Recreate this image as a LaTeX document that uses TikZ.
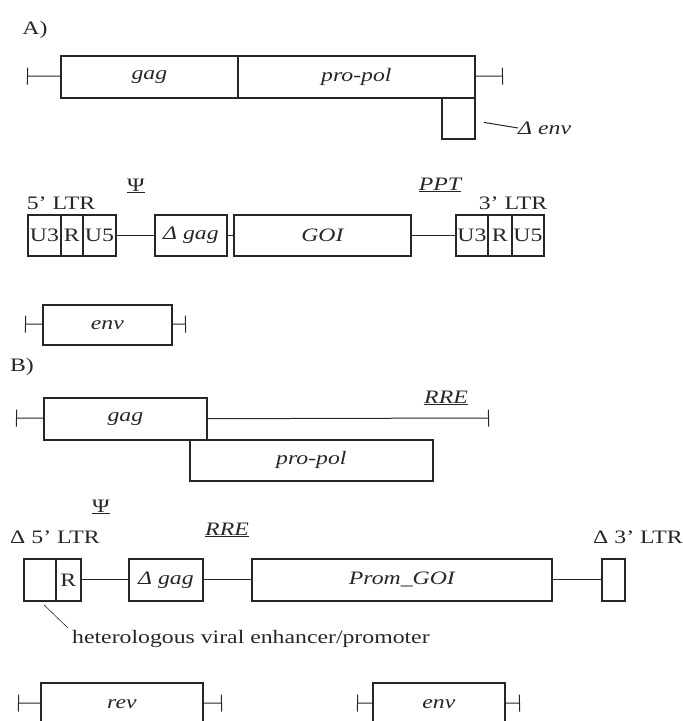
\documentclass[tikz,border=0pt]{standalone}
\usepackage{fontspec}
\setmainfont[Scale=1.9, FakeStretch=1.25]{Liberation Serif}
\usetikzlibrary{arrows.meta, positioning}

\begin{document}
\begin{tikzpicture}[x=1pt, y=-1pt, black!85,
  gene/.style={draw, line width=1.8pt, anchor=north west, inner sep=0pt, minimum height=42pt, font=\itshape},
  ltr/.style={draw, line width=1.8pt, anchor=north west, inner sep=0pt, minimum height=41pt},
  tag/.style={inner sep=0pt},
  link/.style={line width=1pt},
  stub/.style={line width=1pt, {Bar[width=17pt]}-}]
\useasboundingbox (0,0) rectangle (683,721);
\node[tag] (labA) at (35,30) {A)};
\node[gene, minimum width=177pt] (gagA) at (60,55) {gag};
\node[gene, minimum width=237pt] (polA) at (237,55) {pro-pol};
\node[gene, minimum width=33pt, minimum height=41pt] (denvA) at (441,97) {};
\coordinate (wA1) at (27,76); \coordinate (wA2) at (503,76);
\draw[stub] (wA1) -- (gagA); \draw[stub] (wA2) -- (polA);
\node[tag, anchor=west, font=\itshape] (denvlab) at (518,128) {Δ env};
\draw[link] ([shift={(8,4)}]denvA.east) -- (denvlab.west);

\node[tag] (psiA) at (136,186) {\underline{Ψ}};
\node[tag] (ltr5A) at (61,203) {5' LTR};
\node[ltr, minimum width=33pt] (u3a) at (27,214) {U3};
\node[ltr, minimum width=22pt] (ra) at (60,214) {R};
\node[ltr, minimum width=33pt] (u5a) at (82,214) {U5};
\node[gene, minimum width=72pt, minimum height=41pt] (dgagA) at (154,214) {Δ gag};
\node[gene, minimum width=177pt, minimum height=41pt] (goiA) at (233,214) {GOI};
\node[tag, font=\itshape] (pptA) at (440,185) {\underline{PPT}};
\node[tag] (ltr3A) at (513,203) {3' LTR};
\node[ltr, minimum width=32pt] (u3b) at (455,214) {U3};
\node[ltr, minimum width=24pt] (rb) at (487,214) {R};
\node[ltr, minimum width=32pt] (u5b) at (511,214) {U5};
\draw[link] (u5a) -- (dgagA); \draw[link] (dgagA) -- (goiA); \draw[link] (goiA) -- (u3b);
\node[gene, minimum width=129pt, minimum height=40pt] (envA) at (42,304) {env};
\coordinate (wA3) at (25,324); \coordinate (wA4) at (186,324);
\draw[stub] (wA3) -- (envA); \draw[stub] (wA4) -- (envA);

\node[tag] (labB) at (22,367) {B)};
\node[gene, minimum width=163pt] (gagB) at (43,397) {gag};
\node[gene, minimum width=243pt, minimum height=41pt] (polB) at (189,439) {pro-pol};
\coordinate (wB1) at (16,418); \coordinate (wB2) at (489,418);
\draw[stub] (wB1) -- (gagB); \draw[stub] (wB2) -- (gagB);
\node[tag, font=\itshape] (rreA) at (446,398) {\underline{RRE}};

\node[tag] (psiB) at (101,507) {\underline{Ψ}};
\node[tag] (ltr5B) at (55,537) {Δ 5' LTR};
\node[ltr, minimum width=32pt, minimum height=42pt] (enhB) at (23,558) {};
\node[ltr, minimum width=25pt, minimum height=42pt] (rB) at (55,558) {R};
\node[gene, minimum width=74pt] (dgagB) at (128,558) {Δ gag};
\node[tag, font=\itshape] (rreB) at (227,530) {\underline{RRE}};
\node[gene, minimum width=300pt] (goiB) at (251,558) {Prom\_GOI};
\node[ltr, minimum width=23pt, minimum height=42pt] (ltr3B) at (601,558) {};
\node[tag, anchor=east] (ltr3Blab) at (683,537) {Δ 3' LTR};
\draw[link] (rB) -- (dgagB); \draw[link] (dgagB) -- (goiB); \draw[link] (goiB) -- (ltr3B);
\node[tag, anchor=west] (hetB) at (72,639) {heterologous viral enhancer/promoter};
\coordinate (hetpt) at (68,628);
\draw[line width=0.6pt] ([shift={(4,3)}]enhB.south) -- (hetpt);

\node[gene, minimum width=162pt] (revB) at (40,682) {rev};
\node[gene, minimum width=132pt] (envB) at (372,682) {env};
\coordinate (wB3) at (18,703); \coordinate (wB4) at (222,703);
\coordinate (wB5) at (357,703); \coordinate (wB6) at (520,703);
\draw[stub] (wB3) -- (revB); \draw[stub] (wB4) -- (revB);
\draw[stub] (wB5) -- (envB); \draw[stub] (wB6) -- (envB);
\end{tikzpicture}
\end{document}
